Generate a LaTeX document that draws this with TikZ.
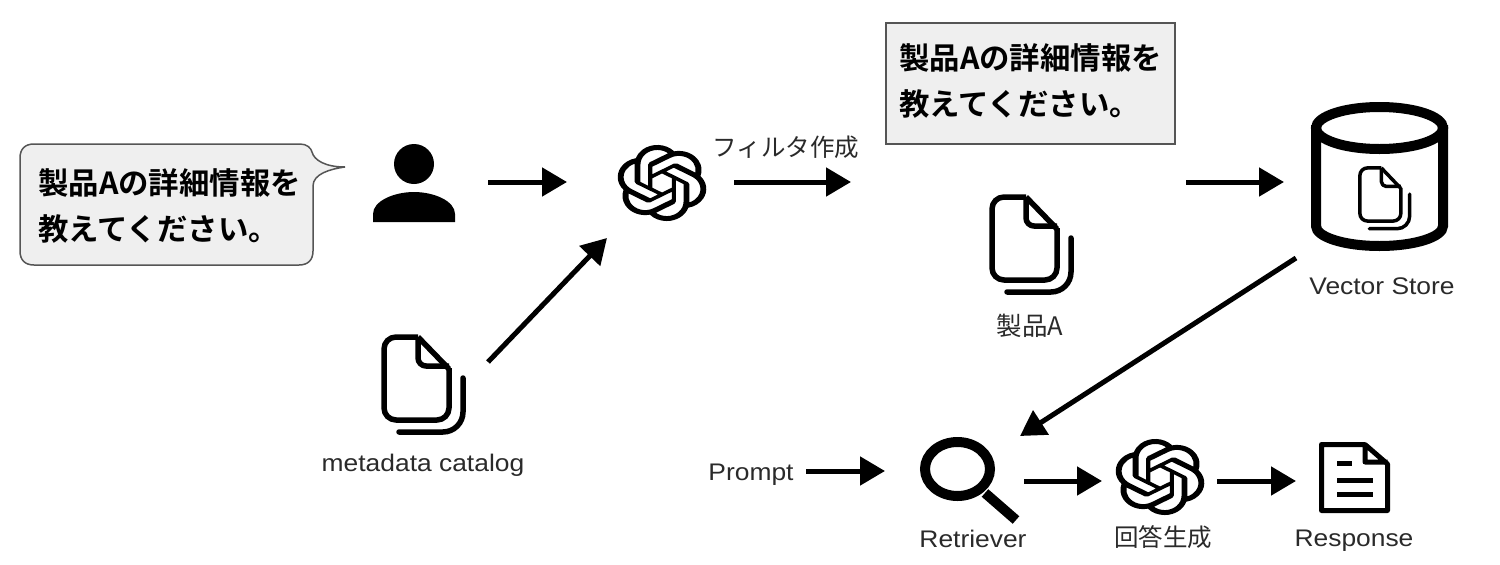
\documentclass[tikz,border=0pt]{standalone}
\usepackage{fontspec}
\setmainfont[FakeStretch=1.1]{Liberation Sans}
\newfontfamily\jpfont{Noto Sans CJK JP}
\newfontfamily\jpbold{Noto Sans CJK JP Bold}
\usetikzlibrary{arrows.meta,svg.path}
\definecolor{boxfill}{HTML}{EFEFEF}
\definecolor{lbl}{HTML}{2A2A2A}
\definecolor{edge}{HTML}{555555}
\tikzset{
  flow/.style={draw=black,line width=5pt,-{Triangle[length=25pt,width=28pt]}},
  anchorbox/.style={inner sep=0pt,outer sep=0pt,minimum size=1pt},
  lab/.style={inner sep=0pt,text=lbl,anchor=base,font=\fontsize{24}{28}\selectfont},
  jplab/.style={inner sep=0pt,text=lbl,anchor=center,font=\jpfont\fontsize{24.5}{28}\selectfont},
  speech/.style={inner sep=0pt,text=black,align=left,anchor=north west,font=\jpbold\fontsize{30.4}{46.5}\selectfont},
  callout/.style={draw=edge,line width=1.5pt,fill=boxfill},
  pics/doc/.style 2 args={code={
    \draw[line width=#1,line join=round,rounded corners=#2*12pt] (37,3) -- (3,3) -- (3,86) -- (68,86) -- (68,34);
    \draw[line width=#1,line join=round] (68,35) -- (37,3);
    \draw[line width=#1,line join=round,rounded corners=#2*8pt] (37,3) -- (37,32) -- (68,32);
    \draw[line width=#1,line cap=round,rounded corners=#2*20pt] (18,98) -- (82,98) -- (82,44);
  }},
  pics/knot/.style={code={
    \begin{scope}[xscale=3.74,yscale=-3.17,shift={(-12pt,-12pt)}]
    \fill[black,even odd rule] svg {M22.2819 9.8211 a5.9847 5.9847 0 0 0 -.5157 -4.9108 a6.0462 6.0462 0 0 0 -6.5098 -2.9 A6.0651 6.0651 0 0 0 4.9807 4.1818 a5.9847 5.9847 0 0 0 -3.9977 2.9 a6.0462 6.0462 0 0 0 .7427 7.0966 a5.98 5.98 0 0 0 .511 4.9107 a6.051 6.051 0 0 0 6.5146 2.9001 A5.9847 5.9847 0 0 0 13.2599 24 a6.0557 6.0557 0 0 0 5.7718 -4.2058 a5.9894 5.9894 0 0 0 3.9977 -2.9001 a6.0557 6.0557 0 0 0 -.7475 -7.0729 Z M13.2599 22.4292 a4.4755 4.4755 0 0 1 -2.8764 -1.0408 l.1419 -.0804 l4.7783 -2.7582 l.3927 -.6813 v-6.7369 l2.02 1.1686 l.038 .052 v5.5826 a4.504 4.504 0 0 1 -4.4945 4.4944 Z M3.5992 18.3038 a4.4708 4.4708 0 0 1 -.5346 -3.0137 l.142 .0852 l4.783 2.7582 l.7806 0 l5.8428 -3.3685 v2.3324 l-.0332 .0615 L9.74 19.9502 a4.4992 4.4992 0 0 1 -6.1408 -1.6464 Z M2.3408 7.8956 a4.485 4.485 0 0 1 2.3655 -1.9728 V11.6 l.3879 .6765 l5.8144 3.3543 l-2.0201 1.1685 l-.071 0 l-4.8303 -2.7865 A4.504 4.504 0 0 1 2.3408 7.872 Z M18.9371 11.7514 L13.1038 8.364 L15.1192 7.2 l.071 0 l4.8303 2.7913 a4.4944 4.4944 0 0 1 -.6765 8.1042 v-5.6772 l-.407 -.667 Z M20.9478 8.7283 l-.142 -.0852 l-4.7735 -2.7818 l-.7854 0 L9.409 9.2297 V6.8974 l.0284 -.0615 l4.8303 -2.7866 a4.4992 4.4992 0 0 1 6.6802 4.66 Z M8.3065 12.863 l-2.02 -1.1638 l-.038 -.0567 V6.0742 a4.4992 4.4992 0 0 1 7.3757 -3.4537 l-.142 .0805 L8.704 5.459 l-.3927 .6813 Z M9.4041 10.4976 l2.602 -1.4998 l2.6069 1.4998 v2.9994 l-2.5974 1.4997 l-2.6067 -1.4997 Z};
    \end{scope}
  }}
}
\begin{document}
\begin{tikzpicture}[x=1pt,y=-1pt]
\useasboundingbox (0,0) rectangle (1500,565);
% callout
\draw[callout] (34,144) -- (300,144) .. controls (307,144) and (311,148) .. (312,152) .. controls (314,160) and (325,167) .. (345,167) .. controls (330,169) and (313,174) .. (313,186) -- (313,251) .. controls (313,260) and (308,265) .. (299,265) -- (34,265) .. controls (25,265) and (20,260) .. (20,251) -- (20,158) .. controls (20,149) and (25,144) .. (34,144) -- cycle;
\node[speech] (q1) at (38,168) {製品Aの詳細情報を\\教えてください。};
% query box
\node[callout,anchor=north west,minimum width=289pt,minimum height=121pt,inner sep=0pt] (qbox) at (885,22) {};
\node[speech] (q2) at (899,43) {製品Aの詳細情報を\\教えてください。};
% user
\fill[black] (414,164) circle (20);
\fill[black] (373,222) -- (373,214) .. controls (373,201) and (394,192) .. (414,192) .. controls (434,192) and (455,201) .. (455,214) -- (455,222) -- cycle;
\node[anchorbox] (user) at (414,182) {};
% knots
\pic at (662,183) {knot};
\pic at (1160,477) {knot};
\node[anchorbox] (llm) at (662,182) {};
\node[anchorbox] (gen) at (1160,481) {};
% docs
\pic at (381,334) {doc={5.5pt}{1}};
\pic at (989,194) {doc={5.5pt}{1}};
\node[anchorbox] (meta) at (423,385) {};
\node[anchorbox] (prod) at (1030,245) {};
% cylinder
\draw[line width=10pt,fill=white] (1316,125) -- (1316,226) arc[start angle=180,end angle=360,x radius=63.5,y radius=-20] -- (1443,125);
\draw[line width=10pt] (1379.5,128) ellipse[x radius=63.5,y radius=21];
\begin{scope}[shift={(1358,166)},x=0.63pt,y=-0.64pt]
\pic at (0,0) {doc={3.5pt}{0.63}};
\end{scope}
\node[anchorbox] (store) at (1380,182) {};
% magnifier
\draw[line width=10pt] (957.5,469) ellipse[x radius=32.5,y radius=27];
\draw[line width=10pt] (985,493) -- (1016,520);
\node[anchorbox] (retr) at (965,481) {};
% response
\draw[line width=5pt,line join=round] (1365,444.5) -- (1321.5,444.5) -- (1321.5,510.5) -- (1387.5,510.5) -- (1387.5,464) -- (1365,444.5) -- (1365,462) -- (1387.5,462);
\draw[line width=5pt] (1337,463) -- (1352,463) (1337,480) -- (1373,480) (1337,494) -- (1373,494);
\node[anchorbox] (resp) at (1355,481) {};
% labels
\node[jplab] (filter) at (786,147) {フィルタ作成};
\node[lab] (mlabel) at (423,471) {metadata catalog};
\node[jplab,font=\jpfont\fontsize{25.5}{28}\selectfont] (plabel) at (1030,326) {製品A};
\node[lab] (vlabel) at (1382,294) {Vector Store};
\node[lab] (prompt) at (751,480) {Prompt};
\node[lab] (rlabel) at (973,547) {Retriever};
\node[jplab] (glabel) at (1163,537) {回答生成};
\node[lab] (rsplabel) at (1354,546) {Response};
% connectors
\coordinate (a1s) at ([xshift=74pt]user.center);
\coordinate (a1e) at ([xshift=-95pt]llm.center);
\draw[flow] (a1s) -- (a1e);
\coordinate (a2s) at (488,362);
\coordinate (a2e) at (607,238);
\draw[flow] (a2s) -- (a2e);
\coordinate (a3s) at ([xshift=72pt]llm.center);
\coordinate (a3e) at ([xshift=189pt]llm.center);
\draw[flow] (a3s) -- (a3e);
\coordinate (a4s) at (1186,182);
\coordinate (a4e) at ([xshift=-96pt]store.center);
\draw[flow] (a4s) -- (a4e);
\coordinate (a5s) at (1296,258);
\coordinate (a5e) at (1020,436);
\draw[flow] (a5s) -- (a5e);
\coordinate (a6s) at (806,471);
\coordinate (a6e) at (885,471);
\draw[flow] (a6s) -- (a6e);
\coordinate (a7s) at ([xshift=59pt]retr.center);
\coordinate (a7e) at ([xshift=-58pt]gen.center);
\draw[flow] (a7s) -- (a7e);
\coordinate (a8s) at ([xshift=57pt]gen.center);
\coordinate (a8e) at ([xshift=-59pt]resp.center);
\draw[flow] (a8s) -- (a8e);
\end{tikzpicture}
\end{document}
